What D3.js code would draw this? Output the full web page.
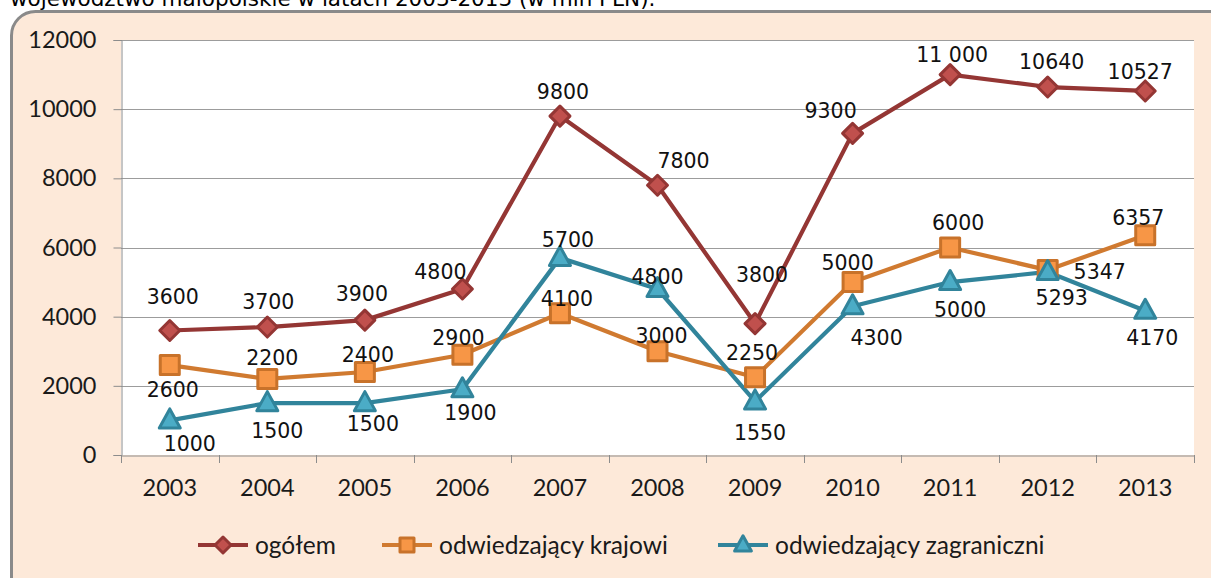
<!DOCTYPE html>
<html><head><meta charset="utf-8">
<script src="https://cdn.jsdelivr.net/npm/d3@7/dist/d3.min.js"></script>
<style>
html,body{margin:0;padding:0;background:#fff;}
svg{display:block;}
</style></head>
<body><svg id="c" width="1211" height="578"></svg>
<script>
const titleText = "województwo małopolskie w latach 2003-2013 (w mln PLN).";
const years = ["2003","2004","2005","2006","2007","2008","2009","2010","2011","2012","2013"];
const yTicks = [0,2000,4000,6000,8000,10000,12000];
const seriesNames = ["ogółem","odwiedzający krajowi","odwiedzający zagraniczni"];
const ogolem = [3600,3700,3900,4800,9800,7800,3800,9300,11000,10640,10527];
const krajowi = [2600,2200,2400,2900,4100,3000,2250,5000,6000,5347,6357];
const zagraniczni = [1000,1500,1500,1900,5700,4800,1550,4300,5000,5293,4170];
const labelTexts = [
  ["3600","3700","3900","4800","9800","7800","3800","9300","11 000","10640","10527"],
  ["2600","2200","2400","2900","4100","3000","2250","5000","6000","5347","6357"],
  ["1000","1500","1500","1900","5700","4800","1550","4300","5000","5293","4170"]
];
// label offsets (px) relative to each point
const labelOffsets = [
  [[3,-34],[1,-25],[-3,-27],[-22,-17],[3,-24],[26,-25],[7,-49],[-22,-23],[2,-20],[4,-25],[-5,-19]],
  [[3,25],[5,-21],[3,-17],[-4,-17],[7,-15],[4,-16],[-3,-25],[-5,-19],[8,-25],[52,2],[-7,-18]],
  [[20,23],[10,27],[8,20],[8,23],[8,-18],[0,-12],[5,31],[24,31],[10,28],[14,26],[7,27]]
];

const styles = [
  {line:"#943634", fill:"#C0504D", stroke:"#943634", shape:"diamond"},
  {line:"#D07A30", fill:"#F79646", stroke:"#C8722A", shape:"square"},
  {line:"#31849B", fill:"#4BACC6", stroke:"#31849B", shape:"triangle"}
];
const seriesData = [ogolem, krajowi, zagraniczni];

const svg = d3.select("#c");
const W = 1211, H = 578;
const plot = {l:121, r:1194, t:40, b:455};
const sansFont = "Lato, 'Open Sans', sans-serif";
const labelFont = "Verdana, 'DejaVu Sans', sans-serif";

// title (cut off at top, as in the reference)
svg.append("text").attr("x",10).attr("y",6)
  .attr("font-family",labelFont).attr("font-size",21.5)
  .attr("fill","#000").text(titleText);

// chart frame
svg.append("rect").attr("x",11.5).attr("y",11.5).attr("width",W+40).attr("height",H+40)
  .attr("rx",24).attr("ry",24).attr("fill","#FDE9D9").attr("stroke","#8A8A8A").attr("stroke-width",3);

const x = d3.scaleBand().domain(years).range([plot.l, plot.r]).paddingInner(0).paddingOuter(0);
const y = d3.scaleLinear().domain([0,12000]).range([plot.b, plot.t]);
const cx = d => x(d) + x.bandwidth()/2;

// plot background
svg.append("rect").attr("x",plot.l).attr("y",plot.t).attr("width",plot.r-plot.l).attr("height",plot.b-plot.t).attr("fill","#fff");

// gridlines
svg.append("g").selectAll("line").data(yTicks.filter(v=>v>0)).join("line")
  .attr("x1",plot.l).attr("x2",plot.r).attr("y1",d=>Math.round(y(d))+0.5).attr("y2",d=>Math.round(y(d))+0.5)
  .attr("stroke","#9C9C9C").attr("stroke-width",1);

// y axis
const yAxis = d3.axisLeft(y).tickValues(yTicks).tickSize(8).tickPadding(17).tickFormat(d=>String(d));
const gy = svg.append("g").attr("transform",`translate(${plot.l+0.5},0)`).call(yAxis);
gy.select(".domain").attr("stroke","#8C8C8C");
gy.selectAll(".tick line").attr("stroke","#8C8C8C");
gy.selectAll(".tick text").attr("font-family",sansFont).attr("font-size",23.5).attr("fill","#1a1a1a");

// x axis
const xAxis = d3.axisBottom(x).tickSize(0).tickPadding(24);
const gx = svg.append("g").attr("transform",`translate(0,${plot.b+0.5})`).call(xAxis);
gx.select(".domain").attr("stroke","#8C8C8C");
gx.selectAll(".tick text").attr("font-family",sansFont).attr("font-size",23.5).attr("fill","#1a1a1a");
// category boundary ticks
const bounds = years.map(d=>x(d)).concat([x(years[years.length-1])+x.bandwidth()]);
svg.append("g").selectAll("line").data(bounds).join("line")
  .attr("x1",d=>Math.round(d)+0.5).attr("x2",d=>Math.round(d)+0.5)
  .attr("y1",plot.b).attr("y2",plot.b+8).attr("stroke","#8C8C8C");

function markerPath(shape, s){
  if(shape==="diamond") return `M0,${-s}L${s},0L0,${s}L${-s},0Z`;
  if(shape==="square") return `M${-s},${-s}H${s}V${s}H${-s}Z`;
  return `M0,${-s*1.15}L${s*1.05},${s*0.75}H${-s*1.05}Z`;
}

const line = d3.line().x((d,i)=>cx(years[i])).y(d=>y(d));

seriesData.forEach((data,si)=>{
  const st = styles[si];
  svg.append("path").datum(data).attr("d",line).attr("fill","none")
    .attr("stroke",st.line).attr("stroke-width",4.2).attr("stroke-linejoin","round");
});
seriesData.forEach((data,si)=>{
  const st = styles[si];
  const size = st.shape==="diamond"?10:(st.shape==="square"?9.5:10);
  svg.append("g").selectAll("path").data(data).join("path")
    .attr("transform",(d,i)=>`translate(${cx(years[i])},${y(d)})`)
    .attr("d",markerPath(st.shape,size))
    .attr("fill",st.fill).attr("stroke",st.stroke).attr("stroke-width",3).attr("stroke-linejoin","round");
});
seriesData.forEach((data,si)=>{
  svg.append("g").selectAll("text").data(data).join("text")
    .attr("x",(d,i)=>cx(years[i])+labelOffsets[si][i][0])
    .attr("y",(d,i)=>y(d)+labelOffsets[si][i][1])
    .attr("dy","0.36em").attr("text-anchor","middle")
    .attr("font-family",labelFont).attr("font-size",20.5).attr("fill","#111")
    .text((d,i)=>labelTexts[si][i]);
});

// legend
const legendX = [198, 382, 718];
const legendY = 545;
seriesNames.forEach((name,si)=>{
  const st = styles[si];
  const g = svg.append("g").attr("transform",`translate(${legendX[si]},${legendY})`);
  g.append("line").attr("x1",0).attr("x2",50).attr("y1",0).attr("y2",0).attr("stroke",st.line).attr("stroke-width",4.2);
  g.append("path").attr("transform","translate(25,0)").attr("d",markerPath(st.shape, st.shape==="square"?7:8))
    .attr("fill",st.fill).attr("stroke",st.stroke).attr("stroke-width",3).attr("stroke-linejoin","round");
  g.append("text").attr("x",57).attr("y",0).attr("dy","0.35em")
    .attr("font-family",sansFont).attr("font-size",24.5).attr("fill","#1a1a1a").text(name);
});
</script></body></html>
